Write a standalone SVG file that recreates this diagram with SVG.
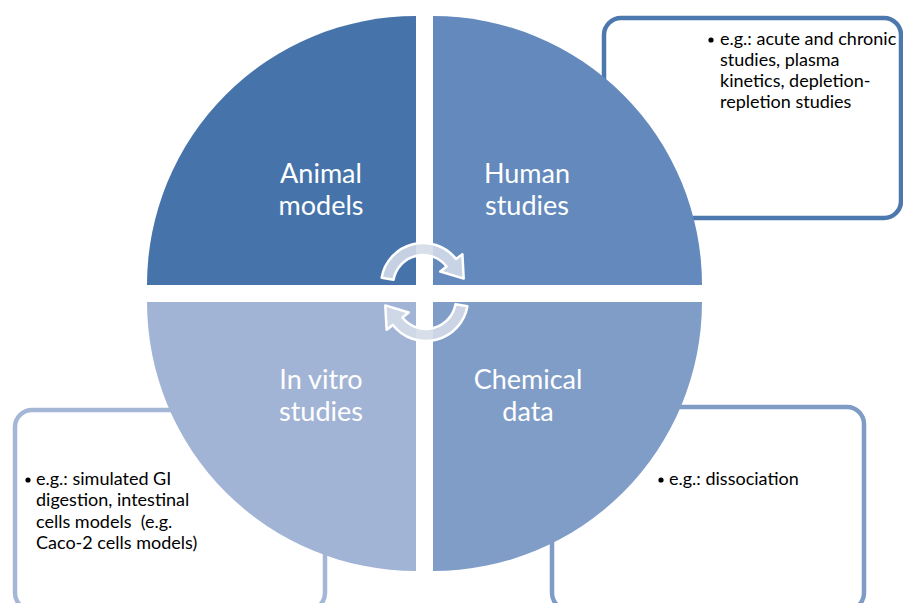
<svg xmlns="http://www.w3.org/2000/svg" width="903" height="603" viewBox="0 0 903 603">
<style>
.box{fill:#ffffff;stroke-width:4.5}
.lbl{font-family:Lato,"Open Sans",sans-serif;font-size:27px;fill:#ffffff;text-anchor:middle}
.txt{font-family:Lato,"Open Sans",sans-serif;font-size:18px;fill:#000000;white-space:pre}
.arrow{fill:#d3dbe9;fill-opacity:0.9;stroke:#ffffff;stroke-width:2.5;stroke-linejoin:round}
</style>
<defs>
<path id="arr" d="M381.6,277.7 A42,42 0 0 1 456.1,259.1 L462.4,254.2 L463.7,278.6 L440.3,271.5 L446.6,266.5 A30,30 0 0 0 393.5,279.8 Z"/>
</defs>
<rect width="903" height="603" fill="#ffffff"/>
<g id="box-human">
<rect class="box" x="604" y="18" width="297" height="200" rx="17" stroke="#4c78ae"/>
</g>
<g id="box-invitro">
<rect class="box" x="15" y="410" width="310" height="200" rx="17" stroke="#a5b7d7"/>
</g>
<g id="box-chemical">
<rect class="box" x="552" y="407" width="312" height="203" rx="17" stroke="#7f9cc7"/>
</g>
<g id="animal">
<path d="M416,285 L147,285 A269,269 0 0 1 416,16 Z" fill="#4674aa"/>
<text class="lbl" x="321" y="183">Animal</text>
<text class="lbl" x="321" y="215">models</text>
</g>
<g id="human">
<path d="M433,285 L433,16 A269,269 0 0 1 702,285 Z" fill="#6389bd"/>
<text class="lbl" x="527" y="183">Human</text>
<text class="lbl" x="527" y="215">studies</text>
</g>
<g id="invitro">
<path d="M416,302 L416,571 A269,269 0 0 1 147,302 Z" fill="#a2b4d5"/>
<text class="lbl" x="321" y="389">In vitro</text>
<text class="lbl" x="321" y="421">studies</text>
</g>
<g id="chemical">
<path d="M433,302 L702,302 A269,269 0 0 1 433,571 Z" fill="#809dc7"/>
<text class="lbl" x="528" y="389">Chemical</text>
<text class="lbl" x="528" y="421">data</text>
</g>
<g id="connectors">
<use href="#arr" class="arrow"/>
<use href="#arr" class="arrow" transform="rotate(180 424.5 292)"/>
</g>
<g id="text-human">
<circle cx="711" cy="40" r="2.6" fill="#000"/>
<text class="txt" x="720" y="45">e.g.: acute and chronic</text>
<text class="txt" x="720" y="66">studies, plasma</text>
<text class="txt" x="720" y="87">kinetics, depletion-</text>
<text class="txt" x="720" y="108">repletion studies</text>
</g>
<g id="text-invitro">
<circle cx="28" cy="480" r="2.6" fill="#000"/>
<text class="txt" x="36" y="485">e.g.: simulated GI</text>
<text class="txt" x="36" y="506">digestion, intestinal</text>
<text class="txt" x="36" y="528" xml:space="preserve">cells models  (e.g.</text>
<text class="txt" x="36" y="549">Caco-2 cells models)</text>
</g>
<g id="text-chemical">
<circle cx="661" cy="480" r="2.6" fill="#000"/>
<text class="txt" x="669" y="485">e.g.: dissociation</text>
</g>
</svg>
